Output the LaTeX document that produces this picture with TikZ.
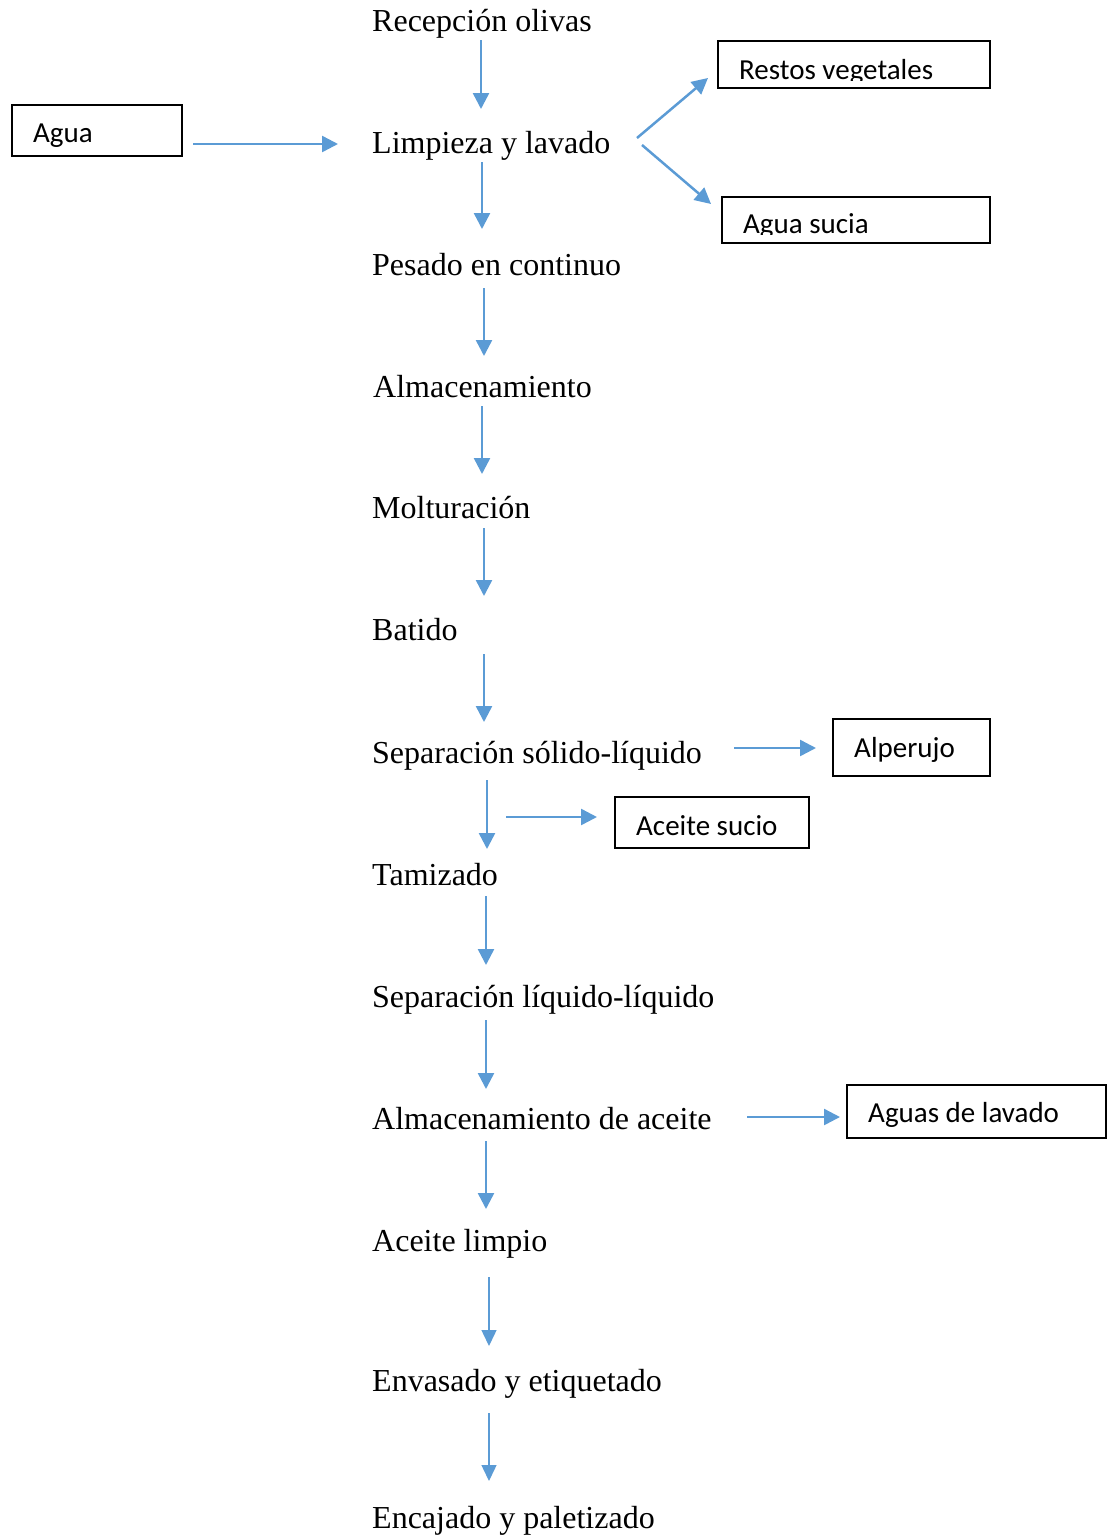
\documentclass[tikz,border=0pt]{standalone}
\usepackage{fontspec}
\setmainfont{Liberation Serif}
\newfontfamily\boxfont{Carlito}
\usetikzlibrary{arrows.meta}
\definecolor{arrblue}{HTML}{5B9BD5}
\tikzset{
  stepnode/.style={anchor=base west, inner sep=0pt, font=\fontsize{32}{38}\selectfont},
  boxtext/.style={anchor=base west, inner sep=0pt, font=\boxfont\fontsize{29}{35}\selectfont},
  outbox/.style={draw=black, line width=1.3pt},
  arr/.style={draw=arrblue, line width=2.5pt, -{Triangle[length=16pt,width=16pt]}},
  arrthin/.style={draw=arrblue, line width=1.4pt, -{Triangle[length=16pt,width=15pt]}}
}
\begin{document}
\begin{tikzpicture}[x=1pt,y=-1pt]
\useasboundingbox (0,0) rectangle (1114,1537);
% process steps
\node[stepnode] (s1) at (372,31) {Recepción olivas};
\node[stepnode] (s2) at (372,153) {Limpieza y lavado};
\node[stepnode] (s3) at (372,275) {Pesado en continuo};
\node[stepnode] (s4) at (373,397) {Almacenamiento};
\node[stepnode] (s5) at (372,518) {Molturación};
\node[stepnode] (s6) at (372,640) {Batido};
\node[stepnode] (s7) at (372,763) {Separación sólido-líquido};
\node[stepnode] (s8) at (372,885) {Tamizado};
\node[stepnode] (s9) at (372,1007) {Separación líquido-líquido};
\node[stepnode] (s10) at (372,1129) {Almacenamiento de aceite};
\node[stepnode] (s11) at (372,1251) {Aceite limpio};
\node[stepnode] (s12) at (372,1391) {Envasado y etiquetado};
\node[stepnode] (s13) at (372,1528) {Encajado y paletizado};
% boxes
\draw[outbox] (12,105) rectangle (182,156);
\node[boxtext] (aguat) at (33,142) {Agua};
\draw[outbox] (718,41) rectangle (990,88);
\begin{scope}
\clip (718,41) rectangle (990,80);
\node[boxtext] (restost) at (739,79.5) {Restos vegetales};
\end{scope}
\draw[outbox] (722,197) rectangle (990,243);
\begin{scope}
\clip (722,197) rectangle (990,234);
\node[boxtext] (suciat) at (743,233.5) {Agua sucia};
\end{scope}
\draw[outbox] (833,719) rectangle (990,776);
\node[boxtext] (alperujo) at (854,757) {Alperujo};
\draw[outbox] (615,797) rectangle (809,848);
\node[boxtext] (aceitesucio) at (636,835) {Aceite sucio};
\draw[outbox] (847,1085) rectangle (1106,1138);
\node[boxtext] (aguaslavado) at (868,1122) {Aguas de lavado};
% arrow end points
\coordinate (a1a) at (481,40);   \coordinate (a1b) at (481,109);
\coordinate (a2a) at (482,162);  \coordinate (a2b) at (482,229);
\coordinate (a3a) at (484,288);  \coordinate (a3b) at (484,356);
\coordinate (a4a) at (482,406);  \coordinate (a4b) at (482,474);
\coordinate (a5a) at (484,528);  \coordinate (a5b) at (484,596);
\coordinate (a6a) at (484,654);  \coordinate (a6b) at (484,722);
\coordinate (a7a) at (487,780);  \coordinate (a7b) at (487,849);
\coordinate (a8a) at (486,896);  \coordinate (a8b) at (486,965);
\coordinate (a9a) at (486,1020); \coordinate (a9b) at (486,1089);
\coordinate (a10a) at (486,1141); \coordinate (a10b) at (486,1209);
\coordinate (a11a) at (489,1277); \coordinate (a11b) at (489,1346);
\coordinate (a12a) at (489,1413); \coordinate (a12b) at (489,1481);
\coordinate (hAa) at (193,144);  \coordinate (hAb) at (338,144);
\coordinate (hRa) at (637,138);  \coordinate (hRb) at (708,78);
\coordinate (hSa) at (642,145);  \coordinate (hSb) at (711,204);
\coordinate (hPa) at (734,748);  \coordinate (hPb) at (816,748);
\coordinate (hCa) at (506,817);  \coordinate (hCb) at (597,817);
\coordinate (hLa) at (747,1117); \coordinate (hLb) at (840,1117);
% arrows
\draw[arr] (a1a) -- (a1b);
\draw[arr] (a2a) -- (a2b);
\draw[arr] (a3a) -- (a3b);
\draw[arr] (a4a) -- (a4b);
\draw[arr] (a5a) -- (a5b);
\draw[arr] (a6a) -- (a6b);
\draw[arr] (a7a) -- (a7b);
\draw[arr] (a8a) -- (a8b);
\draw[arr] (a9a) -- (a9b);
\draw[arr] (a10a) -- (a10b);
\draw[arrthin] (a11a) -- (a11b);
\draw[arrthin] (a12a) -- (a12b);
\draw[arr] (hAa) -- (hAb);
\draw[arr] (hRa) -- (hRb);
\draw[arr] (hSa) -- (hSb);
\draw[arr] (hPa) -- (hPb);
\draw[arr] (hCa) -- (hCb);
\draw[arr] (hLa) -- (hLb);
\end{tikzpicture}
\end{document}
